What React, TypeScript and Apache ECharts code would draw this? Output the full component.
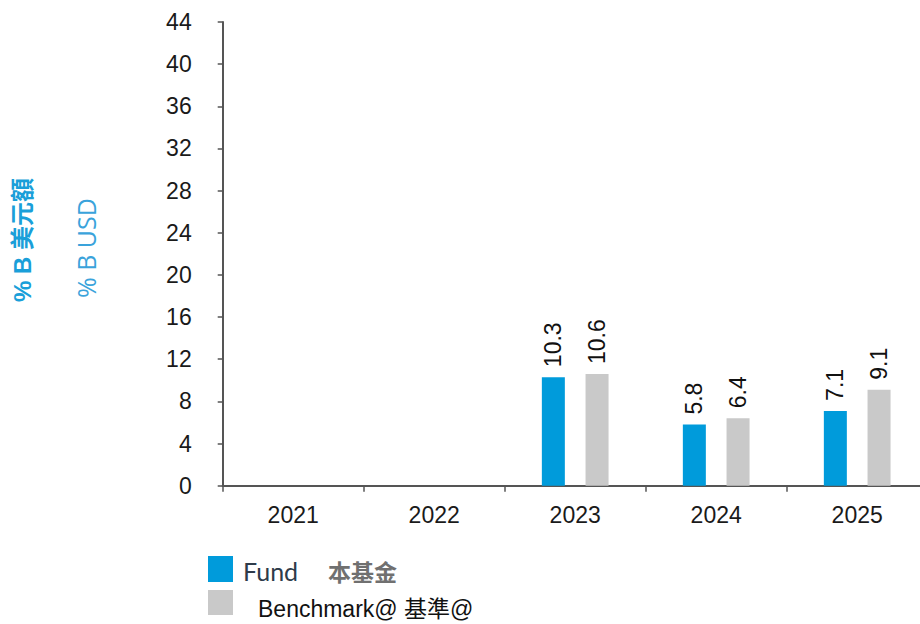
import React, { useEffect, useRef } from "react";
import * as echarts from "echarts";

const categories = ["2021", "2022", "2023", "2024", "2025"];
const fundValues: (number | null)[] = [null, null, 10.3, 5.8, 7.1];
const benchmarkValues: (number | null)[] = [null, null, 10.6, 6.4, 9.1];
const yTicks = { min: 0, max: 44, interval: 4 };
const seriesNames = ["Fund", "Benchmark"];
const legendTexts = { fundEn: "Fund", fundZh: "本基金", bench: "Benchmark@ 基準@" };
const axisNames = { zh: "% B 美元額", en: "% B USD" };

const FUND_COLOR = "#009BDB";
const BENCH_COLOR = "#C9C9C9";
const AXIS_COLOR = "#555555";
const FONT = "'Liberation Sans', Arial, sans-serif";

export default function App() {
  const ref = useRef<HTMLDivElement>(null);
  useEffect(() => {
    if (!ref.current) return;
    const chart = echarts.init(ref.current, null, { renderer: "svg" });
    const label = {
      show: true,
      position: "top" as const,
      rotate: 90,
      align: "left" as const,
      verticalAlign: "middle" as const,
      distance: 10,
      fontSize: 23,
      color: "#111",
      fontFamily: FONT,
    };
    chart.setOption({
      animation: false,
      grid: { left: 222.7, top: 22, width: 705, height: 463.7, containLabel: false },
      xAxis: {
        type: "category",
        data: categories,
        axisLine: { show: true, lineStyle: { color: AXIS_COLOR, width: 2 } },
        axisTick: { show: true, alignWithLabel: false, length: 6, lineStyle: { color: AXIS_COLOR, width: 1.5 } },
        axisLabel: { fontSize: 23, color: "#1a1a1a", margin: 18, fontFamily: FONT },
        splitLine: { show: false },
      },
      yAxis: {
        type: "value",
        min: yTicks.min,
        max: yTicks.max,
        interval: yTicks.interval,
        axisLine: { show: true, lineStyle: { color: AXIS_COLOR, width: 2 } },
        axisTick: { show: true, length: 5, lineStyle: { color: AXIS_COLOR, width: 1.5 } },
        axisLabel: { fontSize: 23, color: "#1a1a1a", margin: 31, fontFamily: FONT },
        splitLine: { show: false },
      },
      series: [
        {
          name: seriesNames[0],
          type: "bar",
          data: fundValues,
          barWidth: 23,
          barGap: "90%",
          itemStyle: { color: FUND_COLOR },
          label,
        },
        {
          name: seriesNames[1],
          type: "bar",
          data: benchmarkValues,
          barWidth: 23,
          itemStyle: { color: BENCH_COLOR },
          label,
        },
      ],
      graphic: [
        {
          type: "text",
          x: 22,
          y: 240,
          rotation: Math.PI / 2,
          style: {
            text: axisNames.zh,
            fontSize: 24,
            fontWeight: "bold",
            fill: "#1A9FD9",
            fontFamily: "'Liberation Sans', 'Noto Sans CJK TC', sans-serif",
            align: "center",
            verticalAlign: "middle",
          },
        },
        {
          type: "text",
          x: 86,
          y: 248,
          rotation: Math.PI / 2,
          style: {
            text: axisNames.en,
            fontSize: 25,
            fill: "#3AA3DB",
            fontFamily: "'Open Sans', sans-serif",
            align: "center",
            verticalAlign: "middle",
          },
        },
        { type: "rect", shape: { x: 208, y: 556, width: 25, height: 26 }, style: { fill: FUND_COLOR } },
        {
          type: "text",
          x: 243,
          y: 571,
          style: {
            text: legendTexts.fundEn,
            fontSize: 25,
            fill: "#2E3B4A",
            fontFamily: "Lato, sans-serif",
            verticalAlign: "middle",
          },
        },
        {
          type: "text",
          x: 328,
          y: 571,
          style: {
            text: legendTexts.fundZh,
            fontSize: 23,
            fontWeight: "bold",
            fill: "#707070",
            fontFamily: "'Noto Sans CJK TC', sans-serif",
            verticalAlign: "middle",
          },
        },
        { type: "rect", shape: { x: 208, y: 590, width: 25, height: 25 }, style: { fill: BENCH_COLOR } },
        {
          type: "text",
          x: 258,
          y: 609,
          style: {
            text: legendTexts.bench,
            fontSize: 23,
            fill: "#111",
            fontFamily: "'Liberation Sans', 'Noto Sans CJK TC', sans-serif",
            verticalAlign: "middle",
          },
        },
      ],
    });
    return () => chart.dispose();
  }, []);
  return (
    <div
      style={{ position: "absolute", left: 0, top: 0, width: 920, height: 624, overflow: "hidden", background: "#fff" }}
    >
      <div ref={ref} style={{ width: 935, height: 624 }} />
    </div>
  );
}
